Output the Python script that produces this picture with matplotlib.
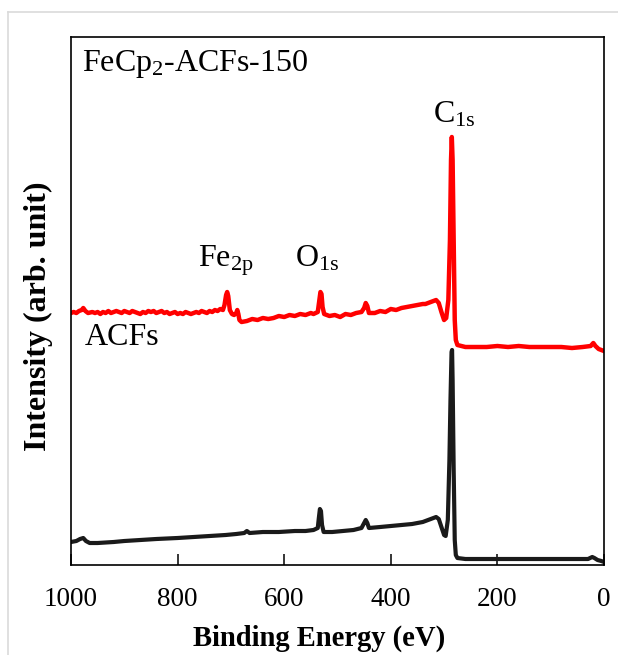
import matplotlib

matplotlib.use("Agg")
import matplotlib.pyplot as plt
from matplotlib.lines import Line2D

plt.rcParams["font.family"] = ["Liberation Serif", "DejaVu Serif"]
plt.rcParams["mathtext.fontset"] = "custom"
plt.rcParams["mathtext.rm"] = "Liberation Serif"
plt.rcParams["mathtext.it"] = "Liberation Serif:italic"
plt.rcParams["mathtext.bf"] = "Liberation Serif:bold"

# survey spectra (binding energy in eV, arbitrary intensity)
red_be = [1000, 995, 990, 985, 980, 977, 973, 968, 960, 955, 950, 945, 940, 935,
          930, 925, 920, 915, 910, 905, 900, 895, 890, 885, 880, 875, 870, 865,
          860, 855, 850, 845, 840, 835, 830, 825, 820, 815, 810, 805, 800, 795,
          790, 785, 780, 775, 770, 765, 760, 755, 750, 745, 740, 735, 730, 725,
          720, 715, 712, 709, 707, 705, 702, 698, 694, 690, 688, 686,
          684, 680, 670, 660, 650, 640, 630, 620, 610, 600, 590, 580, 570, 560,
          550, 545, 537, 534, 532, 530, 528, 525, 515, 505, 495, 485, 475, 465,
          455, 450, 447, 444, 441, 430, 420, 410, 400, 390, 380, 370, 360, 350,
          340, 335, 325, 315, 310, 305, 300, 296, 292, 289, 287, 285.5, 284,
          282, 280, 278, 275, 260, 240, 220, 200, 180, 160, 140, 120, 100, 80,
          60, 40, 25, 20, 16, 10, 5, 0]
red_int = [252, 253, 252, 254, 255, 257, 254, 252, 253, 252, 253, 251, 253, 252,
           254, 252, 253, 254, 253, 252, 254, 253, 252, 254, 253, 252, 251, 253,
           252, 254, 253, 254, 252, 253, 254, 252, 253, 251, 252, 253, 251, 252,
           251, 253, 252, 251, 252, 253, 252, 254, 253, 252, 254, 253, 255, 254,
           256, 255, 260, 270, 273, 269, 255, 251, 250, 252, 255, 251,
           245, 243, 244, 246, 245, 247, 246, 247, 249, 248, 250, 249, 251, 250,
           252, 251, 253, 265, 273, 271, 258, 251, 249, 250, 248, 251, 250, 252,
           253, 257, 262, 259, 252, 252, 254, 253, 256, 255, 257, 258, 259, 260,
           261, 261, 263, 265, 262, 253, 245, 247, 265, 325, 405, 428, 405,
           325, 245, 225, 220, 218, 218, 218, 219, 218, 219, 218, 218, 218, 218,
           217, 218, 219, 222, 219, 216, 215, 214]

black_be = [1000, 990, 983, 977, 972, 965, 950, 920, 900, 870, 840, 800, 770, 740,
            710, 690, 675, 670, 665, 640, 610, 580, 560, 545, 537, 535, 533, 531,
            529, 526, 510, 490, 470, 455, 450, 447, 444, 441, 420, 400, 380, 360,
            340, 325, 315, 310, 305, 300, 297, 293, 290, 288, 286, 285, 284, 282,
            280, 278, 275, 260, 220, 180, 140, 100, 60, 30, 22, 18, 12, 5, 0]
black_int = [23, 24, 26, 27, 24, 22, 22, 23, 24, 25, 26, 27, 28, 29,
             30, 31, 32, 34, 32, 33, 33, 34, 34, 35, 37, 47, 56, 54,
             40, 33, 33, 34, 35, 37, 42, 45, 42, 37, 38, 39, 40, 41,
             43, 46, 48, 46, 38, 30, 29, 45, 105, 165, 213, 215, 185, 95,
             25, 10, 7, 6, 6, 6, 6, 6, 6, 6, 8, 7, 5, 4, 3]

xticks = [1000, 800, 600, 400, 200, 0]

fig = plt.figure(figsize=(6.18, 6.55), dpi=100)
ax = fig.add_axes([0.1149, 0.1374, 0.8624, 0.8061])

ax.plot(red_be, red_int, color="#ff0000", lw=3.2, solid_joinstyle="round")
ax.plot(black_be, black_int, color="#1a1a1a", lw=3.0, solid_joinstyle="round")

ax.set_xlim(1000, 0)
ax.set_ylim(0, 528)
ax.set_xticks(xticks)
ax.set_xticklabels([str(t) for t in xticks])
ax.set_yticks([])
ax.tick_params(axis="x", direction="in", length=8, width=1.1, labelsize=19.5, pad=16)
for sp in ax.spines.values():
    sp.set_linewidth(1.2)

ax.set_xlabel("Binding Energy (eV)", fontsize=20.6, fontweight="bold")
ax.xaxis.set_label_coords(0.465, -0.113)
ax.set_ylabel("Intensity (arb. unit)", fontsize=23, fontweight="bold")
ax.yaxis.set_label_coords(-0.034, 0.472)

fs = 23
ax.text(979, 494, r"FeCp$_{\mathrm{2}}$-ACFs-150", fontsize=fs, va="baseline")
ax.text(321, 443, r"C$_{\mathrm{1s}}$", fontsize=fs, va="baseline")
ax.text(762, 299, r"Fe$_{\mathrm{2p}}$", fontsize=fs, va="baseline")
ax.text(580, 299, r"O$_{\mathrm{1s}}$", fontsize=fs, va="baseline")
ax.text(974, 220, "ACFs", fontsize=fs, va="baseline")

# faint frame around the figure, as in the source screenshot
fig.add_artist(Line2D([0.013, 1.0], [0.9817, 0.9817], color="#dadada", lw=1.2))
fig.add_artist(Line2D([0.013, 0.013], [0.0, 0.9817], color="#dadada", lw=1.2))

fig.savefig("out.png", dpi=100, facecolor="white")
